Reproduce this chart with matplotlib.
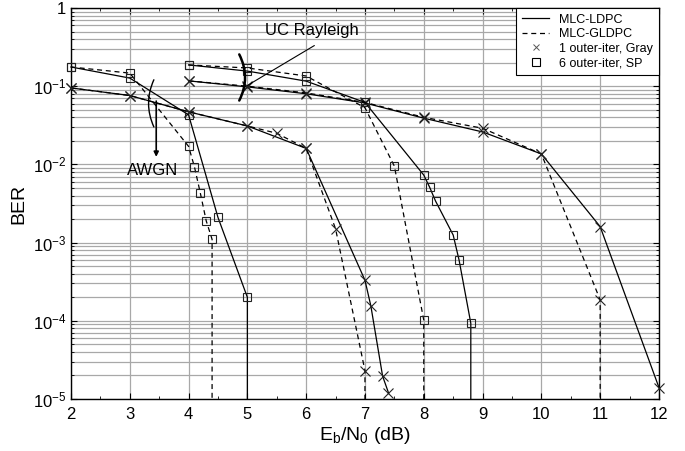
import numpy as np
import matplotlib
matplotlib.use('Agg')
import matplotlib.pyplot as plt
from matplotlib.lines import Line2D
from matplotlib.ticker import MultipleLocator, LogLocator, NullFormatter, FixedLocator

plt.rcParams['font.family'] = ['Liberation Sans', 'DejaVu Sans']
plt.rcParams['mathtext.fontset'] = 'custom'
plt.rcParams['mathtext.rm'] = 'Liberation Sans'
plt.rcParams['mathtext.default'] = 'regular'

# AWGN channel
awgn_gray_ldpc_x = [2, 3, 4, 5, 6, 7, 7.1, 7.3, 7.4]
awgn_gray_ldpc_ber = [0.095, 0.076, 0.047, 0.031, 0.016, 3.3e-4, 1.55e-4, 1.96e-5, 1.2e-5]
awgn_gray_gldpc_x = [2, 3, 4, 5, 5.5, 6, 6.5, 7, 7]
awgn_gray_gldpc_ber = [0.095, 0.076, 0.047, 0.031, 0.025, 0.016, 0.0015, 2.3e-5, 1e-5]
awgn_sp_ldpc_x = [2, 3, 4, 4.5, 5, 5]
awgn_sp_ldpc_ber = [0.176, 0.127, 0.043, 0.0021, 2.0e-4, 1e-5]
awgn_sp_gldpc_x = [2, 3, 4, 4.1, 4.2, 4.3, 4.4, 4.4]
awgn_sp_gldpc_ber = [0.176, 0.147, 0.017, 0.0093, 0.0043, 0.0019, 0.0011, 1e-5]

# uncorrelated Rayleigh channel
ray_gray_ldpc_x = [4, 5, 6, 7, 8, 9, 10, 11, 12]
ray_gray_ldpc_ber = [0.117, 0.098, 0.080, 0.061, 0.039, 0.026, 0.0136, 0.0016, 1.4e-5]
ray_gray_gldpc_x = [4, 5, 6, 7, 8, 9, 10, 11, 11]
ray_gray_gldpc_ber = [0.117, 0.100, 0.082, 0.062, 0.040, 0.029, 0.0136, 1.85e-4, 1e-5]
ray_sp_ldpc_x = [4, 5, 6, 7, 8, 8.1, 8.2, 8.5, 8.6, 8.8, 8.8]
ray_sp_ldpc_ber = [0.187, 0.156, 0.116, 0.062, 0.0073, 0.0051, 0.0034, 0.00125, 0.0006, 9.3e-5, 1e-5]
ray_sp_gldpc_x = [4, 5, 6, 7, 7.5, 8, 8]
ray_sp_gldpc_ber = [0.187, 0.171, 0.135, 0.053, 0.0095, 1.02e-4, 1e-5]

x_ticks = [2, 3, 4, 5, 6, 7, 8, 9, 10, 11, 12]
y_ticks = [1e-5, 1e-4, 1e-3, 1e-2, 1e-1, 1]
y_labels = ['10$^{-5}$', '10$^{-4}$', '10$^{-3}$', '10$^{-2}$', '10$^{-1}$', '1']

fig = plt.figure(figsize=(6.85, 4.51), dpi=100)
ax = fig.add_axes([0.1036, 0.1153, 0.8584, 0.867])

series = [
    (awgn_gray_ldpc_x, awgn_gray_ldpc_ber, '-', 'x', False),
    (awgn_gray_gldpc_x, awgn_gray_gldpc_ber, '--', 'x', True),
    (awgn_sp_ldpc_x, awgn_sp_ldpc_ber, '-', 's', True),
    (awgn_sp_gldpc_x, awgn_sp_gldpc_ber, '--', 's', True),
    (ray_gray_ldpc_x, ray_gray_ldpc_ber, '-', 'x', False),
    (ray_gray_gldpc_x, ray_gray_gldpc_ber, '--', 'x', True),
    (ray_sp_ldpc_x, ray_sp_ldpc_ber, '-', 's', True),
    (ray_sp_gldpc_x, ray_sp_gldpc_ber, '--', 's', True),
]
for xs, ys, ls, mk, drop in series:
    n = len(xs) - 1 if drop else len(xs)
    ax.plot(xs, ys, linestyle=ls, color='k', lw=0.9, marker=mk,
            markevery=list(range(n)), markersize=5.5 if mk == 's' else 6.5,
            markerfacecolor='none', markeredgecolor='#222222', markeredgewidth=0.8,
            dashes=(4, 3) if ls == '--' else (None, None), zorder=3, clip_on=False)

ax.set_yscale('log')
ax.set_xlim(2, 12)
ax.set_ylim(1e-5, 1)
ax.xaxis.set_major_locator(FixedLocator(x_ticks))
ax.xaxis.set_minor_locator(MultipleLocator(0.5))
ax.set_yticks(y_ticks)
ax.set_yticklabels(y_labels)
ax.yaxis.set_minor_locator(LogLocator(base=10, subs=np.arange(2, 10)))
ax.yaxis.set_minor_formatter(NullFormatter())
ax.tick_params(which='both', direction='in', top=True, right=True, labelsize=12)
ax.tick_params(axis='x', which='major', pad=6)
ax.tick_params(which='major', length=4)
ax.tick_params(which='minor', length=2.5)
ax.grid(True, which='major', axis='both', color='#a8a8a8', lw=0.9)
ax.grid(True, which='minor', axis='y', color='#a8a8a8', lw=0.9)
ax.set_axisbelow(True)
for sp in ax.spines.values():
    sp.set_linewidth(1.0)

ax.set_xlabel('$E_b/N_0$ (dB)', fontsize=14, labelpad=2)
ax.set_ylabel('BER', fontsize=14, labelpad=4)

# annotations
ax.text(6.1, 0.51, 'UC Rayleigh', ha='center', va='center', fontsize=12)
ax.annotate('', xy=(4.96, 0.098), xytext=(6.18, 0.345),
            arrowprops=dict(arrowstyle='-', lw=0.8, color='k'))
ax.annotate('', xy=(4.84, 0.061), xytext=(4.84, 0.274),
            arrowprops=dict(arrowstyle='-', lw=1.8, color='k',
                            connectionstyle='arc3,rad=-0.28'))
ax.text(3.39, 0.0083, 'AWGN', ha='center', va='center', fontsize=12)
ax.annotate('', xy=(3.43, 0.028), xytext=(3.43, 0.13),
            arrowprops=dict(arrowstyle='-', lw=1.0, color='k',
                            connectionstyle='arc3,rad=0.25'))
ax.annotate('', xy=(3.45, 0.0115), xytext=(3.45, 0.07),
            arrowprops=dict(arrowstyle='-|>', lw=1.2, color='k', mutation_scale=7))

handles = [
    Line2D([], [], color='k', ls='-', lw=0.9),
    Line2D([], [], color='k', ls='--', lw=0.9, dashes=(4, 3)),
    Line2D([], [], color='#555555', ls='none', marker='x', markersize=5, markeredgewidth=0.7),
    Line2D([], [], color='k', ls='none', marker='s', markersize=6,
           markerfacecolor='none', markeredgewidth=0.8),
]
labels = ['MLC-LDPC', 'MLC-GLDPC', '1 outer-iter, Gray', '6 outer-iter, SP']
leg = ax.legend(handles, labels, loc='upper right', fontsize=9, fancybox=False,
                edgecolor='k', framealpha=1, borderaxespad=0, handlelength=2.2,
                labelspacing=0.2, borderpad=0.45)
leg.get_frame().set_linewidth(0.8)

fig.savefig('out.png', dpi=100)
